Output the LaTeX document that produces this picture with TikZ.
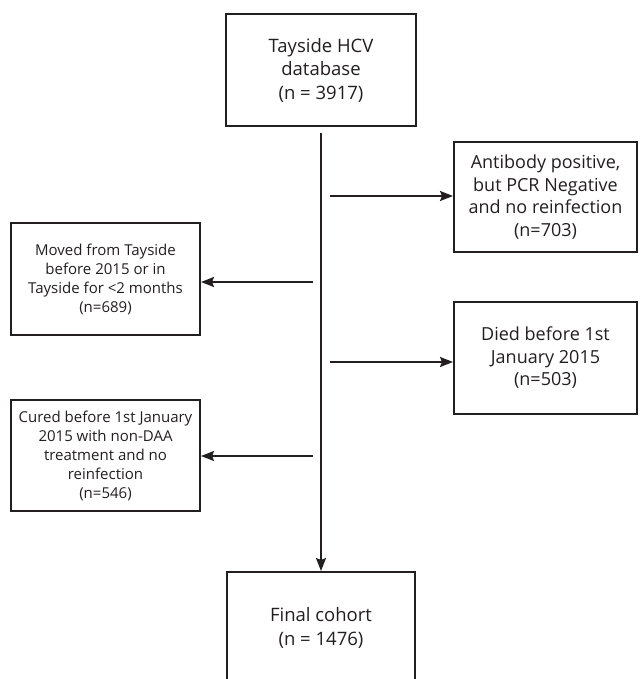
\documentclass[tikz,border=0pt]{standalone}
\usepackage{fontspec}
\setmainfont{Open Sans}
\usetikzlibrary{arrows.meta}

\newlength{\du}
\setlength{\du}{20pt}
\definecolor{dialinecolor}{rgb}{0.137255, 0.121569, 0.125490}
\tikzset{
  flowbox/.style={draw=dialinecolor, line width=0.1\du, fill=white, text=dialinecolor, align=center, inner sep=0pt},
  bigtext/.style={font=\fontsize{18.5}{23.5}\selectfont},
  midtext/.style={font=\fontsize{18}{22.5}\selectfont},
  smalltext/.style={font=\fontsize{15}{19}\selectfont},
  flowarrow/.style={draw=dialinecolor, line width=0.1\du, -{Stealth[length=13pt, width=10pt, inset=2pt]}}
}

\begin{document}
\begin{tikzpicture}
\pgftransformxscale{1.000000}
\pgftransformyscale{-1.000000}
\useasboundingbox (0.000000\du,0.000000\du) rectangle (32.050000\du,33.950000\du);
\clip (0.000000\du,0.000000\du) rectangle (32.050000\du,33.950000\du);
% boxes
\node[flowbox, bigtext, minimum width=9.500000\du, minimum height=5.600000\du] (hcvdb) at (16.050000\du,3.500000\du){Tayside HCV\\database\\(n = 3917)};
\node[flowbox, midtext, minimum width=9.150000\du, minimum height=5.500000\du] (abpos) at (27.275000\du,9.850000\du){Antibody positive,\\but PCR Negative\\and no reinfection\\(n=703)};
\node[flowbox, smalltext, minimum width=9.450000\du, minimum height=5.600000\du] (moved) at (5.275000\du,13.950000\du){Moved from Tayside\\before 2015 or in\\Tayside for <2 months\\(n=689)};
\node[flowbox, midtext, minimum width=9.150000\du, minimum height=5.600000\du] (died) at (27.275000\du,17.900000\du){Died before 1st\\January 2015\\(n=503)};
\node[flowbox, smalltext, minimum width=9.450000\du, minimum height=5.550000\du] (cured) at (5.275000\du,22.775000\du){Cured before 1st January\\2015 with non-DAA\\treatment and no\\reinfection\\(n=546)};
\node[flowbox, bigtext, minimum width=9.400000\du, minimum height=5.600000\du] (final) at (16.050000\du,31.400000\du){Final cohort\\(n = 1476)};
% arrows
\coordinate (trunktop) at (16.050000\du,6.650000\du);
\coordinate (abfork) at (16.500000\du,9.800000\du);
\coordinate (movedfork) at (15.650000\du,14.100000\du);
\coordinate (diedfork) at (16.500000\du,18.100000\du);
\coordinate (curedfork) at (15.650000\du,22.800000\du);
\draw[flowarrow] (trunktop)--(final.north);
\draw[flowarrow] (abfork)--(abfork -| abpos.west);
\draw[flowarrow] (movedfork)--(movedfork -| moved.east);
\draw[flowarrow] (diedfork)--(diedfork -| died.west);
\draw[flowarrow] (curedfork)--(curedfork -| cured.east);
\end{tikzpicture}
\end{document}
